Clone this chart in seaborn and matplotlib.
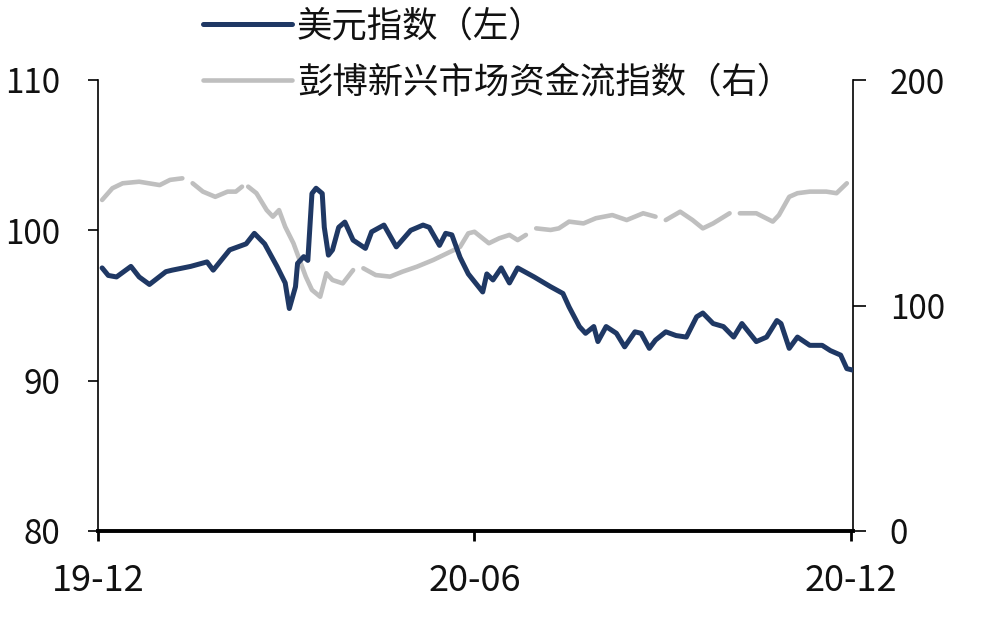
import numpy as np
import pandas as pd
import matplotlib
matplotlib.use("Agg")
import matplotlib.pyplot as plt
import matplotlib.dates as mdates
import seaborn as sns

# 美元指数（左轴）
dxy_dates = [
    "2019-12-03", "2019-12-06", "2019-12-10", "2019-12-17", "2019-12-21", "2019-12-26",
    "2020-01-03", "2020-01-06", "2020-01-15", "2020-01-23", "2020-01-26", "2020-02-03",
    "2020-02-11", "2020-02-15", "2020-02-20", "2020-02-26", "2020-03-01", "2020-03-03",
    "2020-03-06", "2020-03-07", "2020-03-10", "2020-03-12", "2020-03-14", "2020-03-16",
    "2020-03-19", "2020-03-20", "2020-03-22", "2020-03-24", "2020-03-27", "2020-03-30",
    "2020-04-03", "2020-04-09", "2020-04-12", "2020-04-18", "2020-04-24", "2020-05-01",
    "2020-05-07", "2020-05-10", "2020-05-15", "2020-05-18", "2020-05-21", "2020-05-25",
    "2020-05-29", "2020-06-05", "2020-06-07", "2020-06-10", "2020-06-14", "2020-06-18",
    "2020-06-22", "2020-06-30", "2020-07-08", "2020-07-14", "2020-07-17", "2020-07-22",
    "2020-07-25", "2020-07-29", "2020-07-31", "2020-08-04", "2020-08-09", "2020-08-13",
    "2020-08-18", "2020-08-21", "2020-08-25", "2020-08-28", "2020-09-02", "2020-09-07",
    "2020-09-12", "2020-09-17", "2020-09-20", "2020-09-25", "2020-09-30", "2020-10-05",
    "2020-10-09", "2020-10-16", "2020-10-21", "2020-10-26", "2020-10-28", "2020-11-01",
    "2020-11-05", "2020-11-11", "2020-11-17", "2020-11-21", "2020-11-26", "2020-11-29",
    "2020-12-02",
]
dxy_values = [
    97.5, 97.0, 96.9, 97.6, 96.9, 96.4,
    97.25, 97.35, 97.6, 97.9, 97.35, 98.7,
    99.1, 99.8, 99.1, 97.6, 96.5, 94.8,
    96.25, 97.8, 98.25, 98.0, 102.45, 102.8,
    102.45, 100.2, 98.35, 98.7, 100.2, 100.55,
    99.35, 98.8, 99.9, 100.35, 98.9, 100.0,
    100.35, 100.2, 99.0, 99.8, 99.7, 98.2,
    97.1, 95.9, 97.1, 96.7, 97.5, 96.5,
    97.5, 96.9, 96.25, 95.8, 94.9, 93.6,
    93.15, 93.6, 92.6, 93.6, 93.15, 92.25,
    93.25, 93.15, 92.15, 92.7, 93.25, 93.0,
    92.9, 94.25, 94.5, 93.8, 93.6, 92.9,
    93.8, 92.6, 92.9, 94.0, 93.8, 92.15,
    92.9, 92.35, 92.35, 92.0, 91.7, 90.8,
    90.7,
]

# 彭博新兴市场资金流指数（右轴），NaN 为断点
em_dates = [
    "2019-12-03", "2019-12-08", "2019-12-13", "2019-12-21", "2019-12-31", "2020-01-05",
    "2020-01-11", "2020-01-13", "2020-01-16", "2020-01-21", "2020-01-27", "2020-02-02",
    "2020-02-06", "2020-02-09", "2020-02-10", "2020-02-12", "2020-02-16", "2020-02-21",
    "2020-02-24", "2020-02-27", "2020-03-01", "2020-03-05", "2020-03-08", "2020-03-11",
    "2020-03-14", "2020-03-18", "2020-03-21", "2020-03-24", "2020-03-29", "2020-04-03",
    "2020-04-05", "2020-04-08", "2020-04-14", "2020-04-21", "2020-04-27", "2020-05-04",
    "2020-05-12", "2020-05-17", "2020-05-22", "2020-05-25", "2020-05-29", "2020-06-01",
    "2020-06-04", "2020-06-08", "2020-06-13", "2020-06-18", "2020-06-22", "2020-06-26",
    "2020-06-28", "2020-07-01", "2020-07-08", "2020-07-12", "2020-07-17", "2020-07-24",
    "2020-07-30", "2020-08-07", "2020-08-14", "2020-08-22", "2020-08-28", "2020-08-31",
    "2020-09-02", "2020-09-09", "2020-09-15", "2020-09-20", "2020-09-25", "2020-10-03",
    "2020-10-05", "2020-10-08", "2020-10-16", "2020-10-24", "2020-10-27", "2020-11-01",
    "2020-11-05", "2020-11-11", "2020-11-19", "2020-11-24", "2020-11-29",
]
em_values = [
    146.8, 152.0, 154.2, 154.9, 153.4, 155.7,
    156.4, np.nan, 154.2, 150.5, 148.2, 150.5,
    150.5, 152.7, np.nan, 152.7, 149.8, 142.3,
    139.4, 142.3, 134.9, 127.6, 120.2, 112.8,
    106.9, 103.9, 114.3, 111.3, 109.8, 115.7,
    np.nan, 116.5, 113.5, 112.8, 115.0, 117.2,
    120.2, 122.4, 124.6, 126.0, 132.0, 132.7,
    130.5, 127.6, 129.8, 131.3, 129.0, 131.3,
    np.nan, 134.2, 133.5, 134.2, 137.2, 136.4,
    138.7, 140.1, 137.9, 140.9, 139.4, np.nan,
    137.9, 141.6, 137.9, 134.2, 136.4, 140.9,
    np.nan, 140.9, 140.9, 137.2, 140.1, 148.2,
    149.8, 150.5, 150.5, 149.8, 154.2,
]

x_ticks = ["2019-12-01", "2020-06-01", "2020-12-01"]
x_tick_labels = ["19-12", "20-06", "20-12"]
left_ticks = [80, 90, 100, 110]
right_ticks = [0, 100, 200]
label_dxy = "美元指数（左）"
label_em = "彭博新兴市场资金流指数（右）"

sns.set_theme(style="white")
plt.rcParams["font.family"] = ["Noto Sans CJK SC", "DejaVu Sans"]

dxy = pd.DataFrame({"date": pd.to_datetime(dxy_dates), "value": dxy_values})
em = pd.DataFrame({"date": pd.to_datetime(em_dates), "value": em_values})
em["seg"] = em["value"].isna().cumsum()
em = em.dropna()

fig = plt.figure(figsize=(9.83, 6.37), dpi=100)
ax = fig.add_axes([98 / 983, 1 - 531 / 637, (853 - 98) / 983, (531 - 80) / 637])
ax2 = ax.twinx()

sns.lineplot(data=em, x="date", y="value", units="seg", estimator=None,
             color="#bfbfbf", lw=3.3, ax=ax2)
sns.lineplot(data=dxy, x="date", y="value", color="#1f3864", lw=3.6, ax=ax)

# 美元指数画在上层
ax.set_zorder(ax2.get_zorder() + 1)
ax.patch.set_visible(False)

ax.set_xlim(pd.Timestamp("2019-12-01"), pd.Timestamp("2020-12-02"))
ax.set_ylim(80, 110)
ax2.set_ylim(0, 200)
ax.set_xticks(mdates.date2num(pd.to_datetime(x_ticks)))
ax.set_xticklabels(x_tick_labels)
ax.set_yticks(left_ticks)
ax2.set_yticks(right_ticks)
for a in (ax, ax2):
    a.set_xlabel("")
    a.set_ylabel("")

for s in ["top", "right"]:
    ax.spines[s].set_visible(False)
for s in ["top", "left", "bottom"]:
    ax2.spines[s].set_visible(False)
ax.spines["left"].set_linewidth(1.2)
ax.spines["left"].set_color("black")
ax2.spines["right"].set_linewidth(1.2)
ax2.spines["right"].set_color("black")
ax.spines["bottom"].set_linewidth(2.8)
ax.spines["bottom"].set_color("black")

ax.tick_params(axis="x", bottom=True, direction="out", length=7, width=2,
               color="black", pad=16, labelsize=26, labelcolor="#111111")
ax.tick_params(axis="y", left=True, direction="out", length=7, width=1.2,
               color="black", pad=20, labelsize=24, labelcolor="#111111")
ax2.tick_params(axis="y", right=True, direction="out", length=9.5, width=1.2,
                color="black", pad=17, labelsize=24, labelcolor="#111111")

h1 = ax.get_lines()[0]
h2 = ax2.get_lines()[0]
fig.legend([h1, h2], [label_dxy, label_em], loc="upper left",
           bbox_to_anchor=(203 / 983, 1 - 8 / 637), frameon=False,
           fontsize=25.5, handlelength=2.5, handletextpad=0.15,
           labelspacing=0.58, borderpad=0, borderaxespad=0, labelcolor="#111111")

fig.savefig("out.png", dpi=100)
